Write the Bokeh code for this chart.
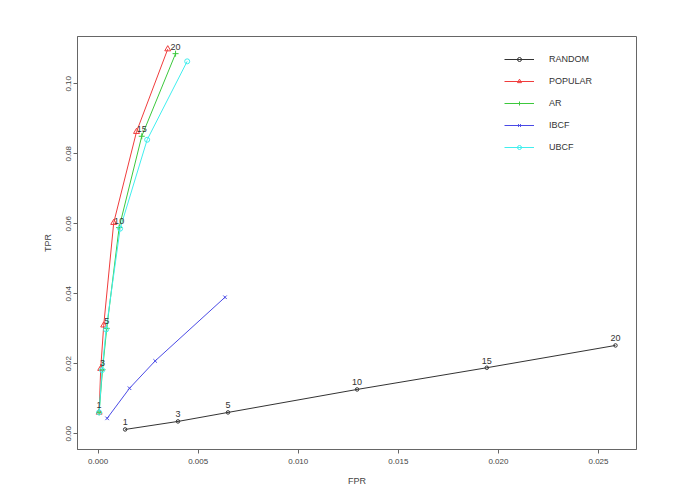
from bokeh.plotting import figure
from bokeh.models import Range1d, FixedTicker, PrintfTickFormatter, Legend, LegendItem, ColumnDataSource
from bokeh.embed import file_html
from bokeh.resources import INLINE

# ---- data ----
n_labels = ["1", "3", "5", "10", "15", "20"]

random_fpr = [0.00135, 0.00399, 0.00649, 0.01294, 0.01942, 0.02585]
random_tpr = [0.00123, 0.00352, 0.00609, 0.01266, 0.01886, 0.02523]

popular_fpr = [0.00005, 0.00013, 0.00028, 0.00078, 0.00192, 0.00348]
popular_tpr = [0.0061, 0.0186, 0.0310, 0.0603, 0.0863, 0.1099]

ar_fpr = [0.00005, 0.00022, 0.00043, 0.00105, 0.00218, 0.00387]
ar_tpr = [0.0061, 0.0183, 0.0301, 0.0589, 0.0850, 0.1086]

ibcf_fpr = [0.00045, 0.00157, 0.00285, 0.00634]
ibcf_tpr = [0.0044, 0.0130, 0.0208, 0.0390]

ubcf_fpr = [0.00005, 0.00020, 0.00040, 0.00110, 0.00245, 0.00445]
ubcf_tpr = [0.0061, 0.0182, 0.0298, 0.0586, 0.0840, 0.1064]

x_ticks = [0.000, 0.005, 0.010, 0.015, 0.020, 0.025]
y_ticks = [0.00, 0.02, 0.04, 0.06, 0.08, 0.10]

FONT = "Liberation Sans"

p = figure(frame_width=559, frame_height=413, output_backend="svg", toolbar_location=None,
           x_range=Range1d(-0.00103, 0.0269), y_range=Range1d(-0.0045, 0.1135),
           min_border_left=77, min_border_top=36, min_border_right=40, min_border_bottom=30)
p.background_fill_color = "white"
p.border_fill_color = "white"
p.xgrid.visible = False
p.ygrid.visible = False
p.outline_line_color = "#666666"
p.outline_line_width = 1

for ax in (p.xaxis[0], p.yaxis[0]):
    ax.axis_line_color = "#666666"
    ax.major_tick_line_color = "#666666"
    ax.major_tick_out = 4
    ax.major_tick_in = 0
    ax.minor_tick_line_color = None
    ax.major_label_text_font = FONT
    ax.major_label_text_font_size = "8px"
    ax.major_label_text_color = "#444444"
    ax.axis_label_text_font = FONT
    ax.axis_label_text_font_size = "9px"
    ax.axis_label_text_font_style = "normal"
    ax.axis_label_text_color = "#444444"

p.xaxis[0].ticker = FixedTicker(ticks=x_ticks)
p.xaxis[0].formatter = PrintfTickFormatter(format="%.3f")
p.xaxis[0].axis_label = "FPR"
p.xaxis[0].major_label_standoff = 5
p.xaxis[0].axis_label_standoff = 9

p.yaxis[0].ticker = FixedTicker(ticks=y_ticks)
p.yaxis[0].formatter = PrintfTickFormatter(format="%.2f")
p.yaxis[0].axis_label = "TPR"
p.yaxis[0].major_label_orientation = "vertical"
p.yaxis[0].major_label_standoff = 3
p.yaxis[0].axis_label_standoff = 10

series = [
    ("RANDOM", random_fpr, random_tpr, "#333333", "circle", 3.5, True),
    ("POPULAR", popular_fpr, popular_tpr, "#f03c3c", "triangle", 6, False),
    ("AR", ar_fpr, ar_tpr, "#3cc83c", "cross", 6, True),
    ("IBCF", ibcf_fpr, ibcf_tpr, "#4a4ae6", "x", 5, False),
    ("UBCF", ubcf_fpr, ubcf_tpr, "#40eeee", "circle", 5, False),
]

items = []
for name, xs, ys, col, mk, sz, annotate in series:
    src = ColumnDataSource(dict(x=xs, y=ys))
    r1 = p.line("x", "y", source=src, line_color=col, line_width=1)
    r2 = p.scatter("x", "y", source=src, marker=mk, size=sz, line_color=col,
                   fill_color=None, line_width=1)
    items.append(LegendItem(label=name, renderers=[r1, r2]))

for name, xs, ys, col, mk, sz, annotate in series:
    if annotate:
        tsrc = ColumnDataSource(dict(x=xs, y=ys, t=n_labels[:len(xs)]))
        p.text("x", "y", text="t", source=tsrc, text_align="center", text_baseline="middle",
               y_offset=-7, text_font_size="9px", text_color="#333333",
               text_font={"value": FONT})

legend = Legend(items=items, location=(427, 297), padding=0, margin=0,
                border_line_color=None, background_fill_alpha=0,
                glyph_width=30, glyph_height=10, label_height=10, spacing=12,
                label_standoff=15, label_text_font=FONT, label_text_font_size="9px",
                label_text_color="#333333", label_text_baseline="middle")
p.add_layout(legend)

open("out.html", "w").write(file_html(p, INLINE))
